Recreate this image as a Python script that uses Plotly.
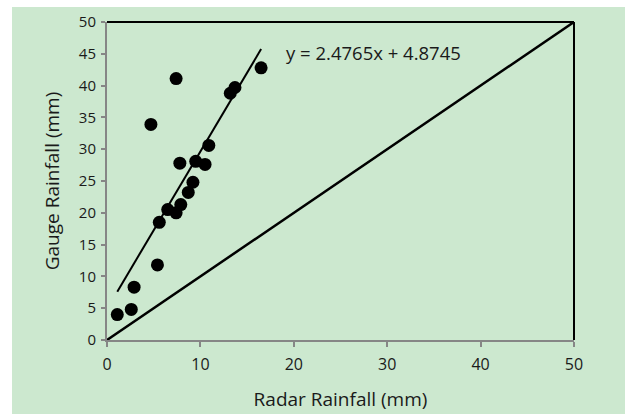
import plotly.graph_objects as go

radar = [1.1, 2.6, 2.9, 5.4, 4.7, 5.6, 6.5, 7.4, 7.9, 7.4, 7.8, 8.7, 9.2, 9.5, 10.5, 10.9, 13.2, 13.7, 16.5]
gauge = [4.0, 4.8, 8.3, 11.8, 33.9, 18.5, 20.5, 20.0, 21.3, 41.1, 27.8, 23.2, 24.8, 28.1, 27.6, 30.6, 38.8, 39.7, 42.8]
slope = 2.4765
intercept = 4.8745
eq_text = "y = 2.4765x + 4.8745"
ticks_x = [0, 10, 20, 30, 40, 50]
ticks_y = [0, 5, 10, 15, 20, 25, 30, 35, 40, 45, 50]

GREEN = "#CCE8CF"
FONT = "Open Sans"
TXT = "#1a1a1a"

fig = go.Figure()

# 1:1 line
fig.add_trace(go.Scatter(x=[0, 50], y=[0, 50], mode="lines",
                         line=dict(color="black", width=2.5), hoverinfo="skip"))
# trend line
xmin, xmax = min(radar), max(radar)
fig.add_trace(go.Scatter(x=[xmin, xmax], y=[slope * xmin + intercept, slope * xmax + intercept],
                         mode="lines", line=dict(color="black", width=2), hoverinfo="skip"))
# points
fig.add_trace(go.Scatter(x=radar, y=gauge, mode="markers",
                         marker=dict(color="black", size=13)))

fig.add_annotation(x=19.0, y=45.2, xref="x", yref="y", text=eq_text, showarrow=False,
                   xanchor="left", yanchor="middle",
                   font=dict(family=FONT, size=18.5, color=TXT))

fig.add_shape(type="rect", xref="paper", yref="paper", x0=-0.2034, x1=1.12, y0=-0.26, y1=1.047,
              fillcolor=GREEN, line=dict(width=0), layer="below")
# top and right black border
fig.add_shape(type="line", xref="paper", yref="paper", x0=0, x1=1, y0=1, y1=1,
              line=dict(color="black", width=2))
fig.add_shape(type="line", xref="paper", yref="paper", x0=1, x1=1, y0=0, y1=1,
              line=dict(color="black", width=2))

fig.update_layout(
    width=625, height=414,
    margin=dict(l=107, r=51, t=22, b=74, autoexpand=False),
    paper_bgcolor="white", plot_bgcolor=GREEN,
    showlegend=False,
    font=dict(family=FONT, color=TXT),
    xaxis=dict(range=[0, 50], tickvals=ticks_x, showgrid=False, zeroline=False,
               showline=True, linecolor="#868686", linewidth=2, automargin=False,
               ticks="outside", ticklen=5, tickcolor="#868686", tickwidth=1.5,
               ticklabelstandoff=4,
               tickfont=dict(family=FONT, size=16, color=TXT),
               title=dict(text="Radar Rainfall (mm)", font=dict(family=FONT, size=19, color=TXT), standoff=18)),
    yaxis=dict(range=[0, 50], tickvals=ticks_y, showgrid=False, zeroline=False,
               showline=True, linecolor="#868686", linewidth=2, automargin=False,
               ticks="outside", ticklen=4, tickcolor="#868686", tickwidth=1.5,
               ticklabelstandoff=2,
               tickfont=dict(family=FONT, size=15, color=TXT),
               title=dict(text="Gauge Rainfall (mm)", font=dict(family=FONT, size=19, color=TXT), standoff=14)),
)

fig.write_html("out.html", config={"displayModeBar": False},
               post_script="document.body.style.margin='0';document.body.style.padding='0';")
